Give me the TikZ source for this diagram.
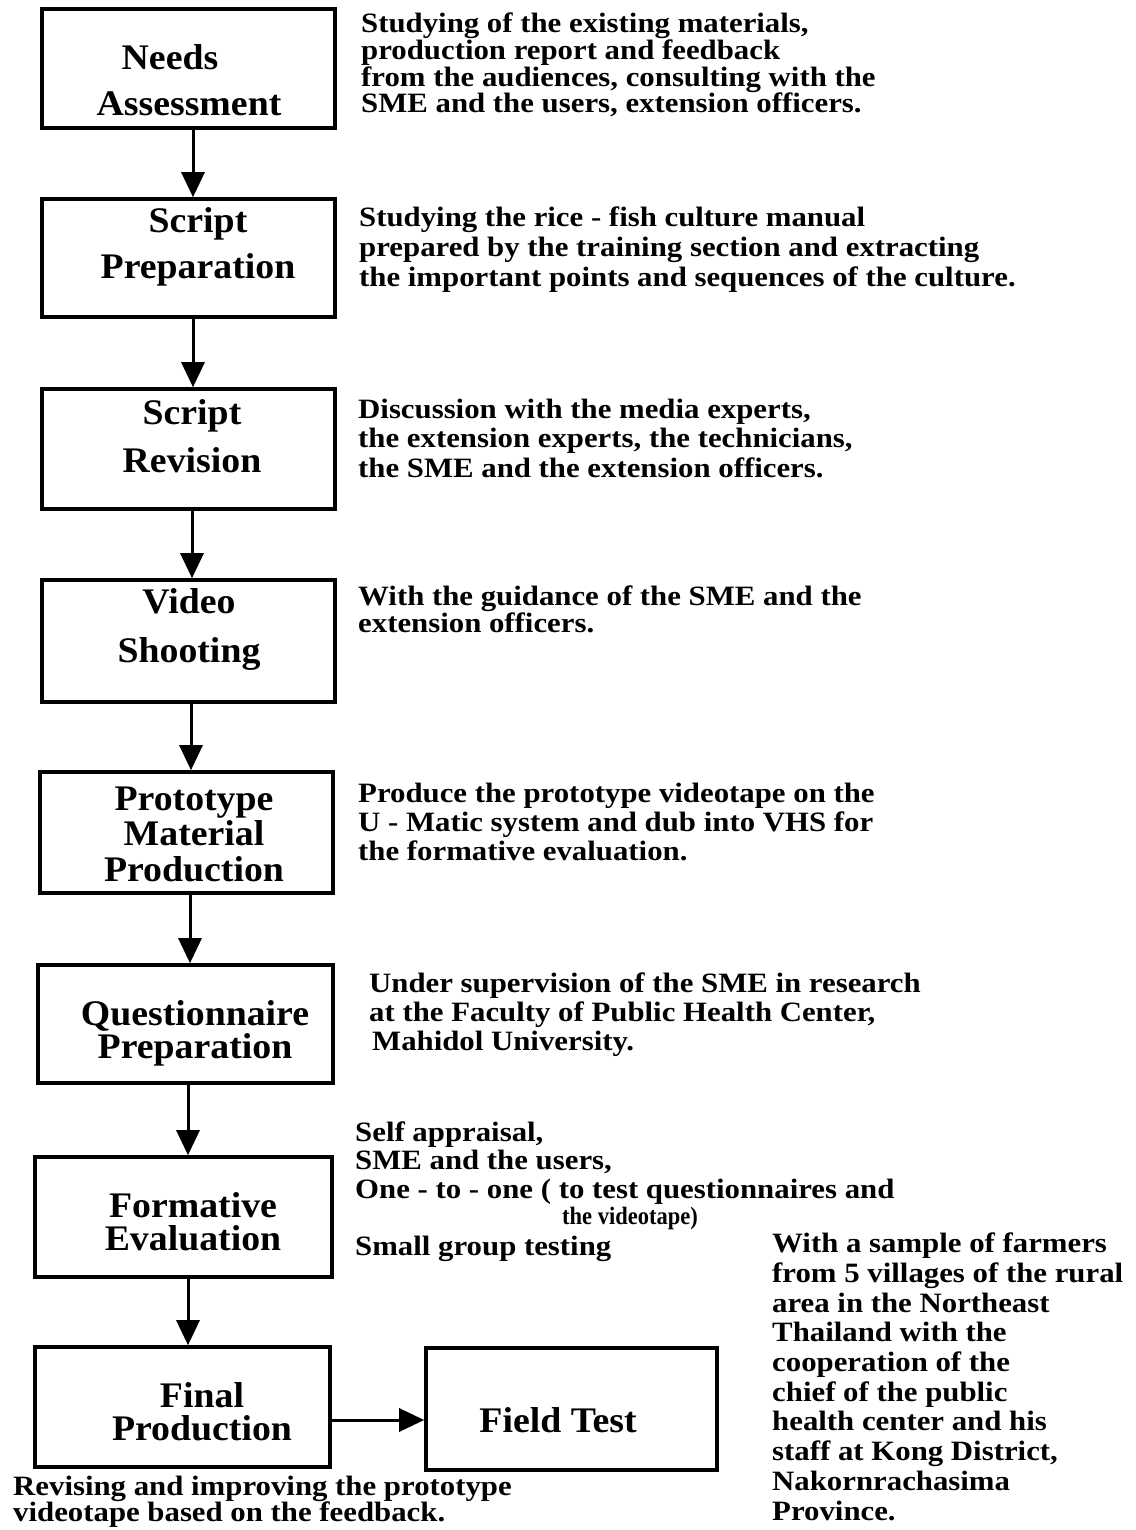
\documentclass[tikz,border=0pt]{standalone}
\usepackage{fontspec}
\setmainfont{Liberation Serif}
\newfontfamily\boxfont{Liberation Serif}[FakeStretch=1.05]
\newfontfamily\notefont{Liberation Serif}[FakeStretch=1.1]
\newfontfamily\tinyfont{Liberation Serif}[FakeStretch=0.9]
\usetikzlibrary{arrows.meta}
\begin{document}
\begin{tikzpicture}[x=1pt,y=-1pt,
  stagebox/.style={draw, line width=3.6pt, inner sep=0pt},
  boxtext/.style={inner sep=0pt, align=center, font=\boxfont\bfseries\fontsize{36}{#1}\selectfont},
  boxtext/.default=46,
  note/.style={inner sep=0pt, anchor=base west, align=left, font=\notefont\bfseries\fontsize{28}{#1}\selectfont},
  note/.default=29,
  flow/.style={line width=3pt, -{Triangle[length=25pt,width=23pt]}}
]
\useasboundingbox (0,0) rectangle (1135,1530);
\fill[white] (0,0) rectangle (1135,1530);

% boxes
\node (b1) [stagebox, minimum width=293pt, minimum height=119pt] at (188.5,68.5) {};
\node (b2) [stagebox, minimum width=293pt, minimum height=118pt] at (188.5,258) {};
\node (b3) [stagebox, minimum width=293pt, minimum height=120pt] at (188.5,449) {};
\node (b4) [stagebox, minimum width=293pt, minimum height=122pt] at (188.5,641) {};
\node (b5) [stagebox, minimum width=293pt, minimum height=121pt] at (186.5,832.5) {};
\node (b6) [stagebox, minimum width=295pt, minimum height=118pt] at (185.5,1024) {};
\node (b7) [stagebox, minimum width=297pt, minimum height=120pt] at (183.5,1217) {};
\node (b8) [stagebox, minimum width=295pt, minimum height=120pt] at (182.5,1407) {};
\node (ft) [stagebox, minimum width=291pt, minimum height=122pt] at (571.5,1409) {};

% box texts
\node (t1) [boxtext=46] at (189,80) {\hspace*{-38pt}Needs\\Assessment};
\node (t2) [boxtext=46] at (198,247) {Script\\Preparation};
\node (t3) [boxtext=48] at (192,436) {Script\\Revision};
\node (t4) [boxtext=49] at (189,629) {Video\\Shooting};
\node (t5) [boxtext=35.5] at (194,834) {Prototype\\Material\\Production};
\node (t6) [boxtext=33] at (195,1033) {Questionnaire\\Preparation};
\node (t7) [boxtext=33] at (193,1222) {Formative\\Evaluation};
\node (t8) [boxtext=33] at (202,1412) {Final\\Production};
\node (t9) [boxtext=46] at (558,1420) {Field Test};

% connectors
\draw[flow] (b1.south -| 193,0) -- (b2.north -| 193,0);
\draw[flow] (b2.south -| 193,0) -- (b3.north -| 193,0);
\draw[flow] (b3.south -| 192,0) -- (b4.north -| 192,0);
\draw[flow] (b4.south -| 191,0) -- (b5.north -| 191,0);
\draw[flow] (b5.south -| 190,0) -- (b6.north -| 190,0);
\draw[flow] (b6.south -| 188,0) -- (b7.north -| 188,0);
\draw[flow] (b7.south -| 188,0) -- (b8.north -| 188,0);
\draw[flow] (b8.east |- 0,1420) -- (ft.west |- 0,1420);

% notes (anchor = baseline of the last line)
\node (r1) [note=25.4] at (361,113) {Studying of the existing materials,\\production report and  feedback\\from  the audiences, consulting with the\\SME and the users, extension officers.};
\node (r2) [note=30] at (359,287) {Studying the rice - fish culture manual\\prepared by the training section and extracting\\the important points and sequences of the culture.};
\node (r3) [note=29.5] at (358,477) {Discussion with the media experts,\\the extension experts, the technicians,\\the SME and the extension officers.};
\node (r4) [note=25] at (358,632) {With the guidance of the SME and the\\extension  officers.};
\node (r5) [note=29] at (358,860) {Produce the prototype videotape on the\\U - Matic system and dub into VHS for\\the  formative  evaluation.};
\node (r6) [note=29] at (369,1050) {Under supervision of the SME in research\\at the Faculty of Public Health Center,\\\hspace*{3pt}Mahidol University.};
\node (r7) [note=28.5] at (355,1255) {Self appraisal,\\SME and the users,\\One - to - one ( to test questionnaires and\\[-2pt]\hspace*{207pt}{\tinyfont\fontsize{25}{25}\selectfont the videotape)}\\[2pt]Small group  testing};
\node (r8) [note=29.7] at (772,1520) {With a sample of farmers\\from 5 villages of the rural\\area in the Northeast\\Thailand with the\\cooperation of the\\chief of the public\\health center and his\\staff at Kong District,\\Nakornrachasima\\Province.};
\node (r9) [note=26] at (13,1521) {Revising and improving  the prototype\\videotape based on the feedback.};
\end{tikzpicture}
\end{document}
